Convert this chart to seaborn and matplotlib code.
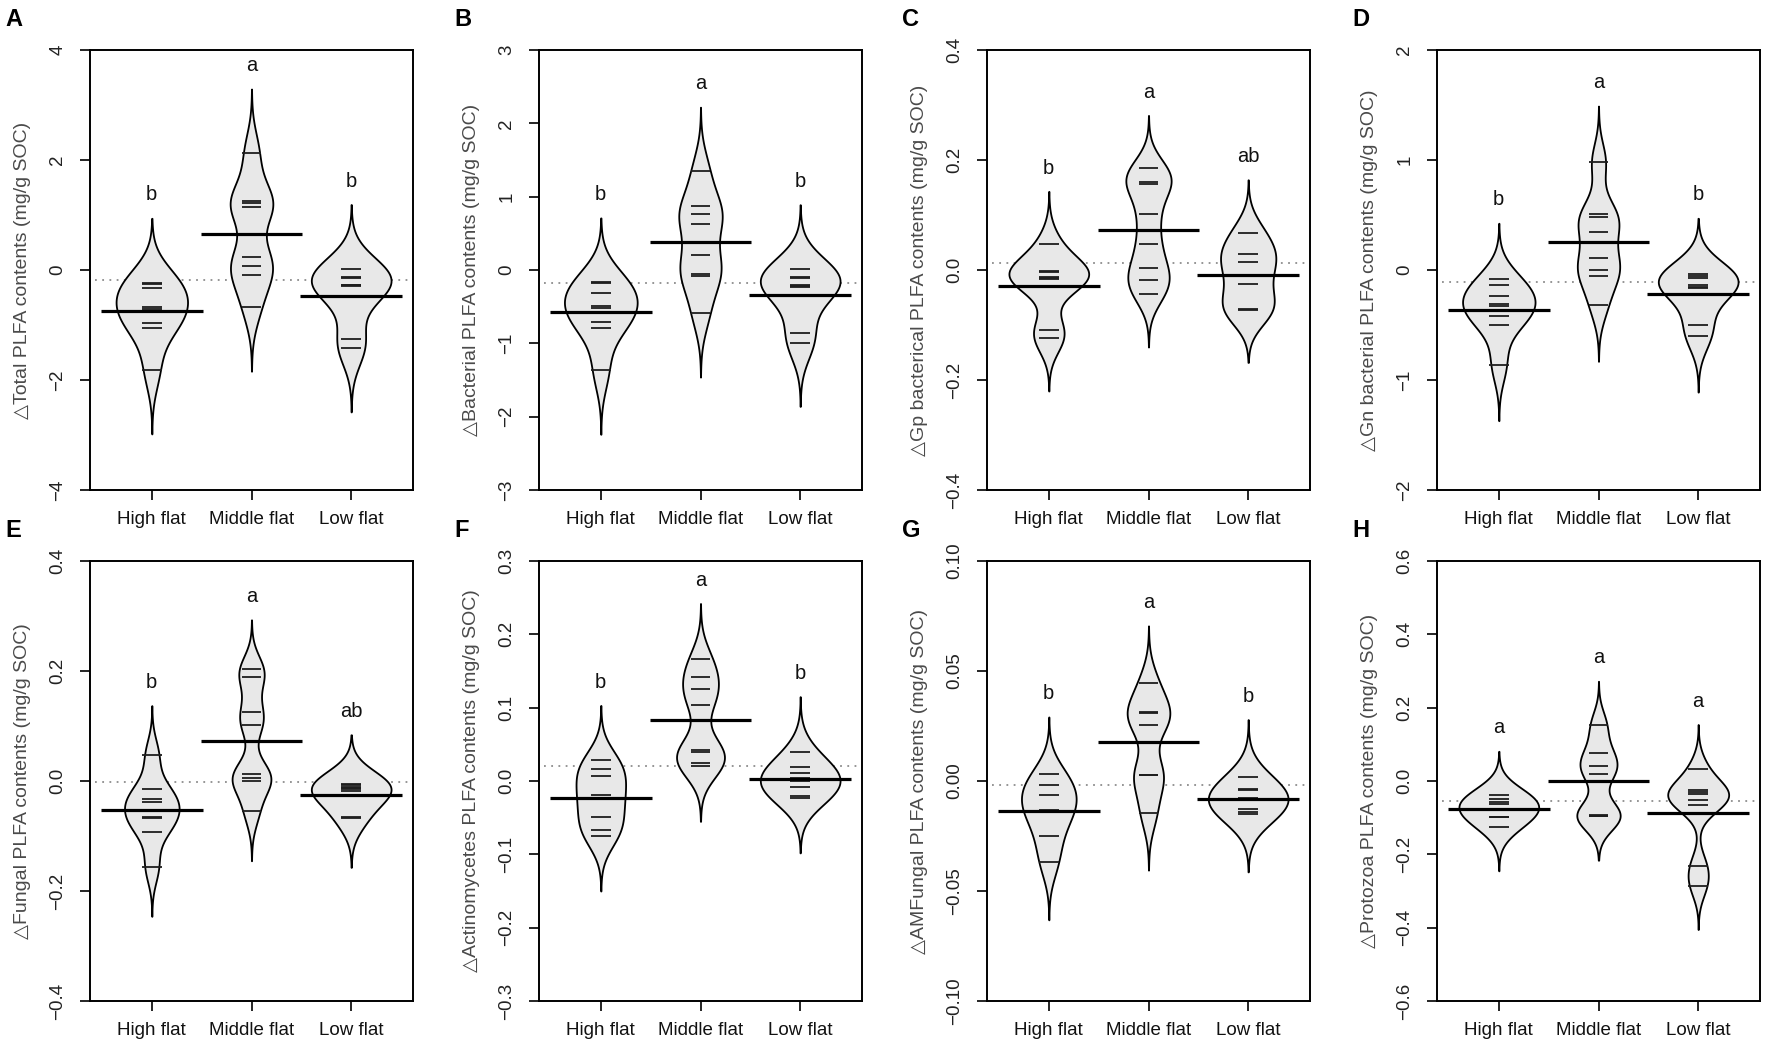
import numpy as np
import pandas as pd
import seaborn as sns
import matplotlib.pyplot as plt

# Categories on the x axis of every panel
groups = ["High flat", "Middle flat", "Low flat"]

total_plfa = [
    [-0.23, -0.25, -0.32, -0.68, -0.71, -0.96, -1.05, -1.81],
    [2.12, 1.25, 1.22, 1.14, 0.23, 0.07, -0.09, -0.67],
    [0.02, -0.13, -0.15, -0.27, -0.28, -0.29, -1.26, -1.41],
]
bacterial_plfa = [
    [-0.16, -0.18, -0.31, -0.49, -0.52, -0.71, -0.79, -1.37],
    [1.35, 0.87, 0.77, 0.63, 0.20, -0.06, -0.08, -0.59],
    [0.02, -0.10, -0.11, -0.21, -0.22, -0.23, -0.86, -0.99],
]
gp_plfa = [
    [0.047, -0.001, -0.004, -0.012, -0.015, -0.017, -0.109, -0.124],
    [0.185, 0.160, 0.156, 0.101, 0.047, 0.003, -0.019, -0.044],
    [0.068, 0.030, 0.015, -0.025, -0.071, -0.072],
]
gn_plfa = [
    [-0.085, -0.14, -0.24, -0.31, -0.33, -0.42, -0.50, -0.86],
    [0.98, 0.51, 0.48, 0.35, 0.11, 0.0, -0.055, -0.32],
    [-0.04, -0.05, -0.07, -0.14, -0.15, -0.16, -0.50, -0.60],
]
fungal_plfa = [
    [0.047, -0.015, -0.033, -0.038, -0.066, -0.068, -0.092, -0.156],
    [0.203, 0.190, 0.126, 0.101, 0.012, 0.006, 0.000, -0.055],
    [-0.006, -0.008, -0.010, -0.012, -0.014, -0.018, -0.065, -0.067],
]
actino_plfa = [
    [0.028, 0.017, 0.007, -0.019, -0.024, -0.049, -0.067, -0.075],
    [0.167, 0.142, 0.125, 0.104, 0.042, 0.040, 0.025, 0.020],
    [0.040, 0.019, 0.011, 0.004, 0.000, -0.008, -0.021, -0.023],
]
amf_plfa = [
    [0.003, -0.002, -0.0065, -0.013, -0.014, -0.025, -0.037],
    [0.0444, 0.0314, 0.031, 0.0255, 0.0026, 0.0026, -0.0144],
    [0.0018, -0.0038, -0.0040, -0.0076, -0.0083, -0.0126, -0.014, -0.0152],
]
protozoa_plfa = [
    [-0.039, -0.050, -0.058, -0.064, -0.097, -0.097, -0.125],
    [0.152, 0.077, 0.041, 0.020, -0.094, -0.095, -0.096],
    [0.034, -0.025, -0.030, -0.036, -0.052, -0.066, -0.232, -0.285],
]

panel_data = [total_plfa, bacterial_plfa, gp_plfa, gn_plfa,
              fungal_plfa, actino_plfa, amf_plfa, protozoa_plfa]
panel_tags = ["A", "B", "C", "D", "E", "F", "G", "H"]
y_names = ["Total PLFA", "Bacterial PLFA", "Gp bacterical PLFA", "Gn bacterial PLFA",
           "Fungal PLFA", "Actinomycetes PLFA", "AMFungal PLFA", "Protozoa PLFA"]
letters = [["b", "a", "b"], ["b", "a", "b"], ["b", "a", "ab"], ["b", "a", "b"],
           ["b", "a", "ab"], ["b", "a", "b"], ["b", "a", "b"], ["a", "a", "a"]]
y_limits = [(-4, 4), (-3, 3), (-0.4, 0.4), (-2, 2),
            (-0.4, 0.4), (-0.3, 0.3), (-0.10, 0.10), (-0.6, 0.6)]
y_steps = [2, 1, 0.2, 1, 0.2, 0.1, 0.05, 0.2]
y_fmt = ["{:.0f}", "{:.0f}", "{:.1f}", "{:.0f}", "{:.1f}", "{:.1f}", "{:.2f}", "{:.1f}"]
# common smoothing bandwidth of each panel (beanplot uses one for all beans)
bean_bw = [0.39, 0.29, 0.032, 0.17, 0.030, 0.025, 0.0087, 0.040]

W, H = 1772, 1052
fig = plt.figure(figsize=(W / 100, H / 100), dpi=100)
fam = ["Liberation Sans", "DejaVu Sans"]
plt.rcParams["font.family"] = fam

col_left = [90, 539, 987, 1437]
row_top = [50, 561]
ax_w, ax_h = 323, 440


def fixed_bw(bw):
    # gaussian_kde wants a factor of the sample std; turn an absolute bandwidth into one
    return lambda kde: bw / np.std(kde.dataset, ddof=1)


for k in range(8):
    r, c = divmod(k, 4)
    left, top = col_left[c], row_top[r]
    ax = fig.add_axes([left / W, 1 - (top + ax_h) / H, ax_w / W, ax_h / H])

    vals = panel_data[k]
    df = pd.DataFrame({
        "group": [g for g, v in zip(groups, vals) for _ in v],
        "value": [x for v in vals for x in v],
    })
    ymin, ymax = y_limits[k]
    yr = ymax - ymin

    # overall mean (dotted), under the beans
    ax.axhline(df["value"].mean(), xmin=0.015, xmax=0.985, color="#8c8c8c",
               ls=(0, (1, 3)), lw=1.3, zorder=0)

    sns.violinplot(data=df, x="group", y="value", order=groups, inner=None,
                   color="#e8e8e8", saturation=1, linecolor="black", linewidth=1.3,
                   width=0.8, density_norm="area", cut=3, gridsize=300,
                   bw_method=fixed_bw(bean_bw[k]), ax=ax, zorder=1)

    for i, v in enumerate(vals):
        v = np.asarray(v)
        ax.hlines(v, i - 0.1, i + 0.1, color="#1e1e1e", lw=1.3, zorder=3)
        ax.hlines(v.mean(), i - 0.51, i + 0.51, color="black", lw=2.3, zorder=4)
        top_of_bean = v.max() + 3 * bean_bw[k]
        ax.text(i, top_of_bean + 0.053 * yr, letters[k][i], ha="center", va="center",
                fontsize=14.5, color="#111111")

    ax.set_xlim(-0.62, 2.62)
    ax.set_ylim(ymin, ymax)
    ticks = np.arange(ymin, ymax + y_steps[k] / 2, y_steps[k])
    ax.set_yticks(ticks)
    ax.set_yticklabels([y_fmt[k].format(t).replace("-", "\u2212") if abs(t) > 1e-9
                        else y_fmt[k].format(0.0) for t in ticks],
                       rotation=90, va="center", fontsize=13.5, color="#222222")
    ax.set_xticks(range(3))
    ax.set_xticklabels(groups, fontsize=13.5, color="#111111")
    ax.tick_params(axis="y", length=7, width=1.2, pad=10)
    ax.tick_params(axis="x", length=7, width=1.2, pad=8)
    for s in ax.spines.values():
        s.set_linewidth(1.4)
    ax.set_xlabel("")
    ax.set_ylabel("\u25b3" + y_names[k] + " contents (mg/g SOC)", fontsize=14,
                  color="#4a4a4a", va="center")
    ax.yaxis.set_label_coords(-67 / ax_w, 0.5)

    fig.text((left - 85) / W, 1 - (top - 42) / H, panel_tags[k], fontsize=17,
             fontweight="bold", ha="left", va="top")

fig.savefig("out.png", dpi=100)
